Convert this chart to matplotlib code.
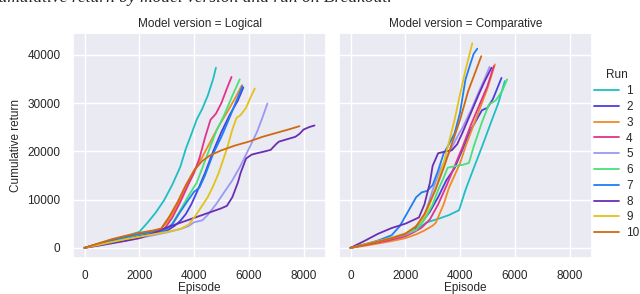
import numpy as np
import matplotlib
matplotlib.use("Agg")
import matplotlib.pyplot as plt
import seaborn as sns

# Run colours
run_colors = ['#1cbfc4', '#4a3fdc', '#f08a24', '#e0338a', '#9b98f5',
              '#47e07a', '#1f7ef2', '#6b2db5', '#e3c21a', '#cf6a12']
run_labels = ['1', '2', '3', '4', '5', '6', '7', '8', '9', '10']

# Logical model: episode / cumulative return per run
log_x1 = [0, 500, 1000, 1500, 2000, 2300, 2600, 2900, 3200, 3500, 3700, 3900, 4100, 4300, 4500, 4700, 4800]
log_y1 = [0, 800, 1600, 2400, 3300, 5200, 7300, 9800, 13000, 16800, 20500, 23500, 26600, 28800, 31500, 35000, 37300]
log_x2 = [0, 500, 1000, 1500, 2000, 2500, 3000, 3300, 3500, 3700, 3900, 4100, 4400, 4700, 5000, 5300, 5600, 5800]
log_y2 = [0, 700, 1400, 2000, 2600, 3100, 3500, 4600, 5600, 7000, 9000, 11500, 15500, 20000, 24000, 27500, 30500, 33200]
log_x3 = [0, 500, 1000, 1500, 2000, 2500, 2800, 3100, 3400, 3700, 4000, 4300, 4600, 4900, 5200, 5500, 5750]
log_y3 = [0, 850, 1700, 2400, 3000, 3500, 3900, 6000, 9000, 12500, 16000, 18800, 22000, 25200, 28000, 31000, 33700]
log_x4 = [0, 500, 1000, 1500, 2000, 2500, 2900, 3200, 3500, 3800, 4000, 4200, 4400, 4600, 4800, 5000, 5200, 5370]
log_y4 = [0, 800, 1500, 2200, 2900, 3400, 3800, 6200, 9500, 13200, 15500, 18600, 22800, 26500, 27800, 30000, 33000, 35400]
log_x5 = [0, 500, 1000, 1500, 2000, 2500, 3000, 3500, 3800, 4000, 4300, 4500, 4800, 5100, 5400, 5700, 6000, 6300, 6500, 6680]
log_y5 = [0, 500, 1000, 1500, 2000, 2600, 3200, 3900, 4500, 5300, 5700, 6800, 9000, 11500, 14000, 17000, 20500, 24000, 27000, 29900]
log_x6 = [0, 500, 1000, 1500, 2000, 2500, 2900, 3200, 3500, 3800, 4100, 4300, 4500, 4800, 5100, 5400, 5670]
log_y6 = [0, 750, 1450, 2100, 2800, 3300, 3600, 5000, 7800, 10800, 13500, 16500, 19500, 24000, 27500, 31500, 34900]
log_x7 = [0, 500, 1000, 1500, 2000, 2500, 2900, 3200, 3500, 3800, 4000, 4200, 4400, 4700, 5000, 5300, 5550, 5770]
log_y7 = [0, 800, 1550, 2200, 2900, 3300, 3500, 4800, 7500, 10000, 11600, 12500, 15000, 19500, 23000, 27000, 30500, 33500]
log_x8 = [0, 500, 1000, 1500, 2000, 2500, 3000, 3500, 4000, 4500, 5000, 5200, 5400, 5500, 5600, 5700, 5800, 5900,
          6100, 6300, 6600, 6800, 7000, 7100, 7400, 7700, 7850, 8000, 8200, 8400]
log_y8 = [0, 450, 950, 1450, 2000, 3000, 4200, 5200, 6200, 7200, 8200, 8700, 10500, 12000, 13500, 15500, 17000, 18500,
          19300, 19600, 20000, 20300, 21500, 22000, 22500, 23000, 23600, 24500, 25000, 25350]
log_x9 = [0, 500, 1000, 1500, 2000, 2500, 3000, 3500, 3800, 4000, 4200, 4500, 4700, 4900, 5200, 5400, 5550, 5700,
          5900, 6050, 6220]
log_y9 = [0, 600, 1200, 1800, 2300, 2800, 3300, 3900, 4800, 6200, 7900, 10500, 12800, 15500, 20500, 24500, 26900, 27500,
          29000, 31000, 33000]
log_x10 = [0, 500, 1000, 1500, 2000, 2500, 2800, 3100, 3400, 3700, 4000, 4300, 4600, 5000, 5500, 6000, 6500, 7000, 7500, 7850]
log_y10 = [0, 900, 1800, 2500, 3100, 3600, 4000, 6500, 9500, 13000, 16000, 18000, 19200, 20200, 21200, 22000, 23000, 23800, 24600, 25200]

# Comparative model
cmp_x1 = [0, 500, 1000, 1500, 2000, 2400, 2800, 3200, 3600, 3964, 4200, 4500, 4812, 5100, 5400, 5636]
cmp_y1 = [0, 650, 1300, 2000, 2800, 3900, 5300, 6000, 6800, 7800, 12000, 16500, 21100, 25500, 30000, 34540]
cmp_x2 = [0, 500, 1000, 1500, 2000, 2400, 2700, 2900, 3200, 3500, 3800, 4100, 4400, 4800, 5000, 5200, 5515]
cmp_y2 = [0, 650, 1300, 2000, 2700, 4200, 6000, 7500, 10500, 14000, 16500, 20500, 24500, 28500, 29000, 30800, 35200]
cmp_x3 = [0, 500, 1000, 1500, 2000, 2400, 2700, 3000, 3115, 3400, 3600, 3800, 4000, 4200, 4400, 4700, 5000, 5273]
cmp_y3 = [0, 400, 900, 1400, 2000, 2800, 3600, 4600, 5200, 9000, 12500, 15000, 17500, 21000, 24000, 28500, 33000, 38000]
cmp_x4 = [0, 500, 1000, 1500, 2000, 2300, 2600, 2900, 3200, 3500, 3800, 4100, 4400, 4700, 5000, 5236]
cmp_y4 = [0, 550, 1100, 1700, 2400, 3200, 4200, 5900, 9000, 12800, 16900, 21000, 25500, 29500, 33500, 37650]
cmp_x5 = [0, 500, 1000, 1500, 2000, 2400, 2700, 3000, 3300, 3600, 3900, 4100, 4400, 4700, 4900, 5079]
cmp_y5 = [0, 650, 1300, 2000, 2700, 3700, 6500, 12000, 16500, 19700, 23000, 25000, 28500, 32500, 35000, 37500]
cmp_x6 = [0, 500, 1000, 1500, 2000, 2400, 2700, 3000, 3200, 3400, 3550, 3800, 4100, 4327, 4500, 4800, 5055, 5300, 5539, 5721]
cmp_y6 = [0, 700, 1400, 2100, 2900, 3800, 5800, 9000, 12000, 14500, 16600, 16900, 17200, 17600, 21000, 26000, 29700, 30500, 32470, 34900]
cmp_x7 = [0, 500, 1000, 1500, 1800, 2000, 2200, 2400, 2600, 2800, 3000, 3200, 3400, 3600, 3800, 4000, 4200, 4400, 4500, 4630]
cmp_y7 = [0, 700, 1500, 2600, 4500, 6500, 8500, 10500, 11500, 11800, 13000, 16000, 19500, 21500, 23700, 28000, 34900, 38500, 40200, 41250]
cmp_x8 = [0, 500, 1000, 1500, 2000, 2500, 2700, 2900, 3000, 3200, 3500, 3700, 3900, 4100, 4400, 4700, 4900, 5150]
cmp_y8 = [0, 1400, 2900, 4100, 5000, 6300, 9000, 13500, 17000, 19600, 20000, 20200, 21500, 24000, 28000, 32000, 34500, 37300]
cmp_x9 = [0, 500, 1000, 1500, 2000, 2300, 2600, 2800, 3000, 3200, 3400, 3600, 3800, 4000, 4200, 4448]
cmp_y9 = [0, 700, 1400, 2100, 3000, 4000, 5700, 7600, 10700, 13800, 17500, 22000, 26500, 31800, 36800, 42350]
cmp_x10 = [0, 500, 1000, 1500, 2000, 2400, 2700, 2900, 3100, 3400, 3700, 4000, 4300, 4500, 4776]
cmp_y10 = [0, 600, 1300, 2000, 2900, 4500, 7000, 9500, 12000, 16500, 21500, 26500, 32500, 35500, 39700]

logical_runs = [(log_x1, log_y1), (log_x2, log_y2), (log_x3, log_y3), (log_x4, log_y4), (log_x5, log_y5),
                (log_x6, log_y6), (log_x7, log_y7), (log_x8, log_y8), (log_x9, log_y9), (log_x10, log_y10)]
comparative_runs = [(cmp_x1, cmp_y1), (cmp_x2, cmp_y2), (cmp_x3, cmp_y3), (cmp_x4, cmp_y4), (cmp_x5, cmp_y5),
                    (cmp_x6, cmp_y6), (cmp_x7, cmp_y7), (cmp_x8, cmp_y8), (cmp_x9, cmp_y9), (cmp_x10, cmp_y10)]

xticks = [0, 2000, 4000, 6000, 8000]
yticks = [0, 10000, 20000, 30000, 40000]

sns.set_theme(style='darkgrid')
plt.rcParams['font.family'] = ['Liberation Sans', 'DejaVu Sans']

fig = plt.figure(figsize=(6.4, 2.94), dpi=100)
ax1 = fig.add_axes([73/640, 36/294, 253/640, 225/294])
ax2 = fig.add_axes([339/640, 36/294, 253/640, 225/294], sharey=ax1)

for ax, runs, title in [(ax1, logical_runs, 'Model version = Logical'),
                        (ax2, comparative_runs, 'Model version = Comparative')]:
    for (xs, ys), c, lab in zip(runs, run_colors, run_labels):
        ax.plot(xs, ys, color=c, lw=1.3, label=lab)
    ax.set_xlim(-420, 8820)
    ax.set_ylim(-2100, 44500)
    ax.set_xticks(xticks)
    ax.set_yticks(yticks)
    ax.tick_params(labelsize=8.5, pad=3)
    ax.tick_params(axis='x', pad=2.5)
    ax.set_title(title, fontsize=8.5, pad=4)
    ax.set_xlabel('Episode', fontsize=8.5, labelpad=0)

ax1.set_ylabel('Cumulative return', fontsize=8.5, labelpad=4)
ax2.tick_params(labelleft=False)

handles, labels = ax1.get_legend_handles_labels()
leg = fig.legend(handles, labels, title='Run', loc='center left', bbox_to_anchor=(0.912, 0.475),
                 frameon=False, fontsize=8.5, title_fontsize=8.5, handlelength=2.1, labelspacing=0.32,
                 handletextpad=0.6)

# caption of the page above, cut by the crop
fig.text(-0.021, 1 - 2.5/294, 'Cumulative return by model version and run on Breakout.',
         family=['Liberation Serif', 'DejaVu Serif'], style='italic', fontsize=12.5, va='baseline')

fig.savefig('out.png', dpi=100)
